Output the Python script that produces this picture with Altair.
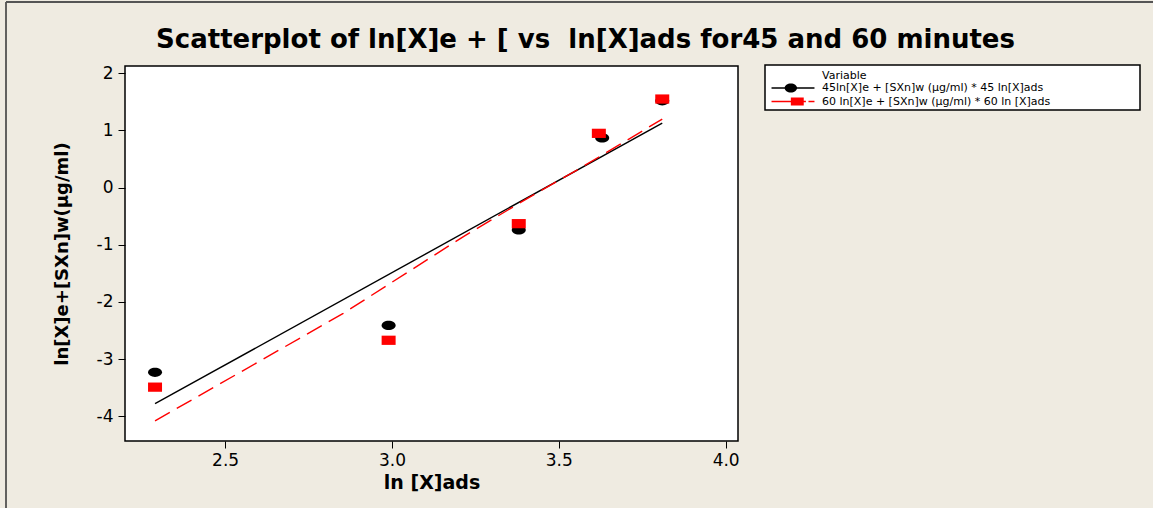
import altair as alt
import pandas as pd

# ---- series labels ----
LABEL_45 = "45ln[X]e + [SXn]w (µg/ml) * 45 ln[X]ads"
LABEL_60 = "60 ln[X]e + [SXn]w (µg/ml) * 60 ln [X]ads"
TITLE = "Scatterplot of ln[X]e + [ vs \u00a0ln[X]ads for45 and 60 minutes"

# ---- observed points ----
ln_x_ads_45 = [2.29, 2.99, 3.38, 3.63, 3.81]
ln_xe_45 = [-3.23, -2.41, -0.74, 0.87, 1.52]
ln_x_ads_60 = [2.29, 2.99, 3.38, 3.62, 3.81]
ln_xe_60 = [-3.49, -2.67, -0.63, 0.95, 1.55]

# ---- fitted lines ----
fit45_x = [2.29, 3.81]
fit45_y = [-3.78, 1.13]
fit60_x = [2.29, 2.854, 3.213, 3.414, 3.564, 3.81]
fit60_y = [-4.08, -2.20, -0.86, -0.16, 0.34, 1.20]

# ---- axes ----
x_ticks = [2.5, 3.0, 3.5, 4.0]
y_ticks = [-4, -3, -2, -1, 0, 1, 2]
x_domain = [2.2, 4.037]
y_domain = [-4.432, 2.128]

BG = "#efebe1"
FONT = "DejaVu Sans"
W, H = 613, 375

points = pd.DataFrame({
    "x": ln_x_ads_45 + ln_x_ads_60,
    "y": ln_xe_45 + ln_xe_60,
    "Variable": [LABEL_45] * len(ln_x_ads_45) + [LABEL_60] * len(ln_x_ads_60),
})
fit45 = pd.DataFrame({"x": fit45_x, "y": fit45_y})
fit60 = pd.DataFrame({"x": fit60_x, "y": fit60_y})
one_row = pd.DataFrame({"k": [0]})

x_enc = alt.X(
    "x:Q",
    scale=alt.Scale(domain=x_domain, nice=False, zero=False),
    axis=alt.Axis(
        values=x_ticks, format=".1f", title="ln [X]ads",
        titleFont=FONT, titleFontSize=19, titleFontWeight="bold", titleColor="black",
        titleX=W / 2, titleY=41, titleBaseline="middle",
        labelFont=FONT, labelFontSize=17, labelColor="black", labelPadding=4,
        tickColor="black", tickSize=7, tickWidth=1, domain=False, grid=False,
    ),
)
y_enc = alt.Y(
    "y:Q",
    scale=alt.Scale(domain=y_domain, nice=False, zero=False),
    axis=alt.Axis(
        values=y_ticks, labelExpr="toString(datum.value)",
        title="ln[X]e+[SXn]w(µg/ml)",
        titleFont=FONT, titleFontSize=18, titleFontWeight="bold", titleColor="black",
        titleX=-63, titleY=H / 2, titleAngle=270, titleAlign="center", titleBaseline="middle",
        labelFont=FONT, labelFontSize=17, labelColor="black", labelPadding=5,
        tickColor="black", tickSize=7, tickWidth=1, domain=False, grid=False,
    ),
)

# legend symbols: line with marker (unit = 6 px at symbolSize 144)
SYM_45 = ("M-3.58,-0.125H3.58V0.125H-3.58Z "
          "M-1.39,0A1.03,0.75 0 1,1 0.67,0A1.03,0.75 0 1,1 -1.39,0Z")
SYM_60 = ("M-3.58,-0.125H-0.36V0.125H-3.58Z "
          "M-0.36,-0.65H1.79V0.65H-0.36Z "
          "M1.79,-0.125H2.15V0.125H1.79Z "
          "M2.58,-0.125H3.58V0.125H2.58Z")
# plot markers (slightly flattened)
ELLIPSE = "M-1,0A1,0.66 0 1,1 1,0A1,0.66 0 1,1 -1,0Z"
RECT = "M-1,-0.66H1V0.66H-1Z"

legend = alt.Legend(
    title=None, orient="none", legendX=662, legendY=16,
    symbolSize=144, symbolOpacity=1, symbolStrokeWidth=0,
    labelFont=FONT, labelFontSize=11, labelColor="black",
    labelOffset=23, labelLimit=600, rowPadding=2.5, padding=0,
)

border_left = alt.Chart(one_row).mark_rule(color="#333333", strokeWidth=1.5).encode(
    x=alt.value(-119), y=alt.value(-64), y2=alt.value(442))
border_top = alt.Chart(one_row).mark_rule(color="#555555", strokeWidth=2).encode(
    x=alt.value(-119), x2=alt.value(1028), y=alt.value(-64))
legend_box = alt.Chart(one_row).mark_rect(fill="white", stroke="black", strokeWidth=1.5).encode(
    x=alt.value(640), x2=alt.value(1015), y=alt.value(-1), y2=alt.value(44))
legend_title = alt.Chart(one_row).mark_text(
    align="left", baseline="middle", font=FONT, fontSize=11, color="black"
).encode(x=alt.value(697), y=alt.value(9.5), text=alt.value("Variable"))
chart_title = alt.Chart(one_row).mark_text(
    align="center", baseline="alphabetic", font=FONT, fontSize=26, fontWeight="bold",
    color="black"
).encode(x=alt.value(460.5), y=alt.value(-18), text=alt.value(TITLE))

line45 = alt.Chart(fit45).mark_line(color="black", strokeWidth=1.4).encode(x=x_enc, y=y_enc)
line60 = alt.Chart(fit60).mark_line(color="#ff0000", strokeWidth=1.4, strokeDash=[17, 8]).encode(
    x=x_enc, y=y_enc)

carrier = alt.Chart(points).mark_point(filled=True, opacity=0).encode(
    x=x_enc, y=y_enc,
    color=alt.Color("Variable:N", scale=alt.Scale(domain=[LABEL_45, LABEL_60],
                                                  range=["black", "#ff0000"]), legend=legend),
    shape=alt.Shape("Variable:N", scale=alt.Scale(domain=[LABEL_45, LABEL_60],
                                                  range=[SYM_45, SYM_60]), legend=legend),
)

pts45 = alt.Chart(points).transform_filter(alt.datum.Variable == LABEL_45).mark_point(
    filled=True, shape=ELLIPSE, size=196, color="black", opacity=1
).encode(x=x_enc, y=y_enc)
pts60 = alt.Chart(points).transform_filter(alt.datum.Variable == LABEL_60).mark_point(
    filled=True, shape=RECT, size=196, color="#ff0000", opacity=1
).encode(x=x_enc, y=y_enc)

chart = alt.layer(
    border_left, border_top, legend_box, line45, line60, carrier, pts45, pts60,
    legend_title, chart_title
).properties(
    width=W, height=H,
    padding={"left": 125, "top": 66, "right": 415, "bottom": 67},
    autosize=alt.AutoSizeParams(type="none"),
    background=BG,
).configure_view(fill="white", stroke="black", strokeWidth=1.5)

chart.save("out.html", embed_options={"renderer": "svg", "actions": False})
